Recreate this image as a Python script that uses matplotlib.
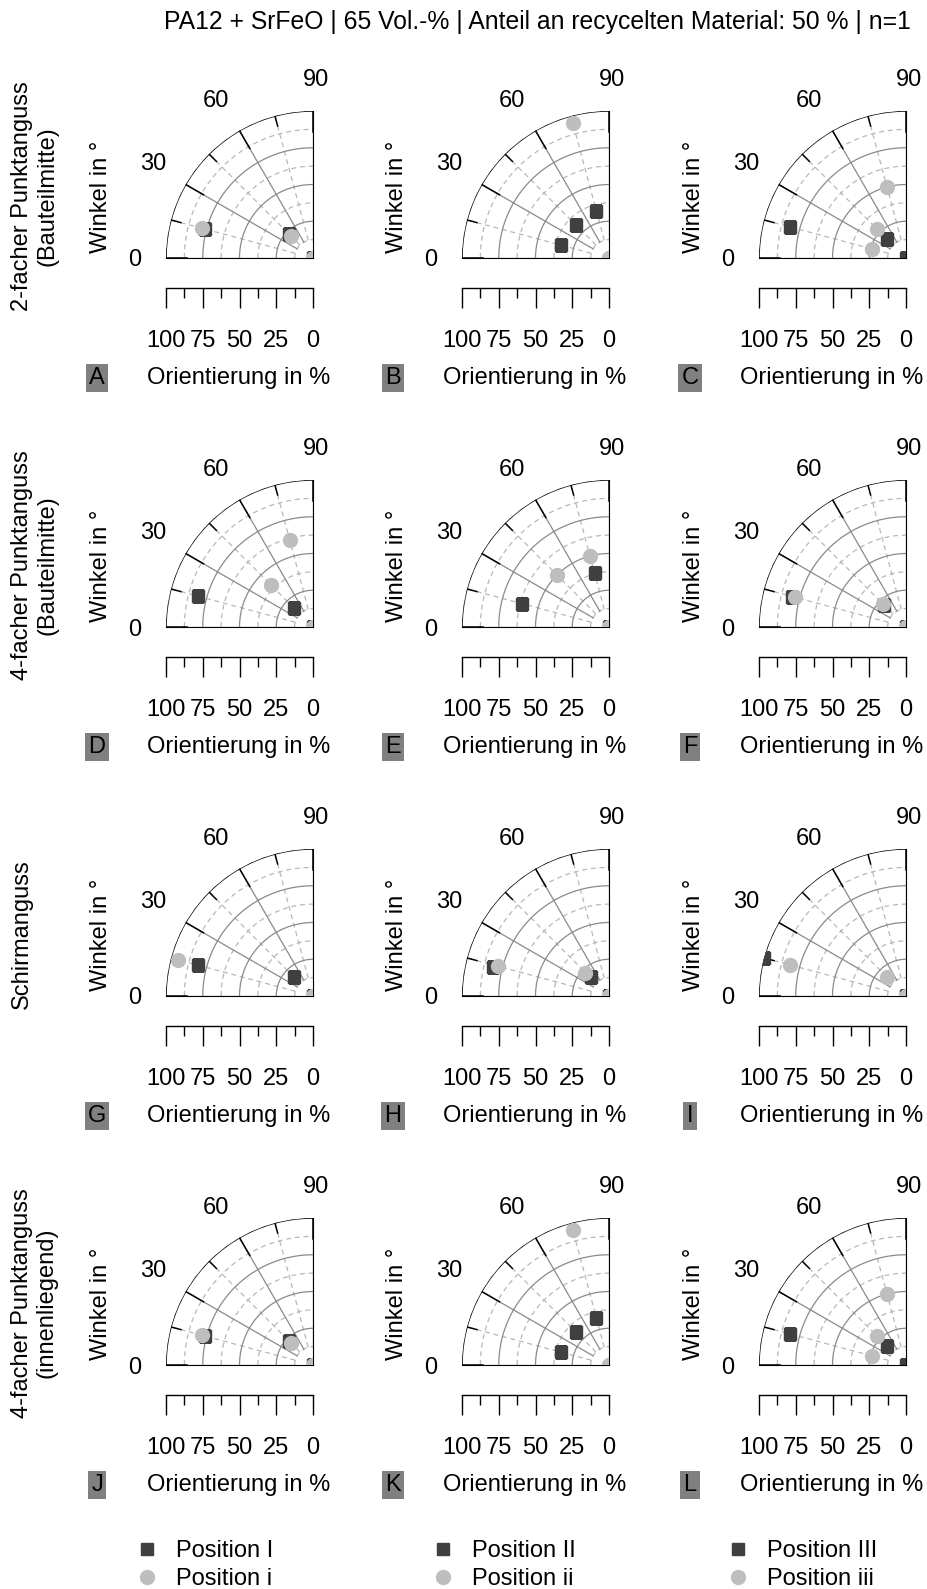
import numpy as np
import matplotlib.pyplot as plt
from matplotlib.lines import Line2D

plt.rcParams['font.family'] = ['Liberation Sans', 'DejaVu Sans']
plt.rcParams['font.size'] = 17

W, H = 927, 1589  # Bildgröße in Pixel

title = "PA12 + SrFeO | 65 Vol.-% | Anteil an recycelten Material: 50 % | n=1"
row_labels = [["2-facher Punktanguss", "(Bauteilmitte)"],
              ["4-facher Punktanguss", "(Bauteilmitte)"],
              ["Schirmanguss"],
              ["4-facher Punktanguss", "(innenliegend)"]]
panel_letters = ["A", "B", "C", "D", "E", "F", "G", "H", "I", "J", "K", "L"]
angle_ticks = [0, 30, 60, 90]
orient_ticks = [100, 75, 50, 25, 0]
pos_upper = ["Position I", "Position II", "Position III"]
pos_lower = ["Position i", "Position ii", "Position iii"]

# Orientierung in % und Winkel in ° je Panel (A..L), Reihenfolge I, II, III
orient_upper = [
    [76, 23, 0], [34, 32, 33], [82, 18, 0],
    [81, 18, 0], [61, 38, 0], [80, 21, 0],
    [81, 18, 0], [81, 18, 0], [100, 0, 0],
    [76, 23, 0], [34, 32, 33], [82, 18, 0],
]
angle_upper = [
    [15, 45, 0], [15, 45, 75], [15, 45, 0],
    [15, 45, 0], [15, 75, 0], [15, 45, 0],
    [15, 45, 0], [14, 47, 0], [15, 0, 0],
    [15, 45, 0], [15, 45, 75], [15, 45, 0],
]
# Reihenfolge i, ii, iii
orient_lower = [
    [78, 21, 0], [95, 0, 0], [24, 28, 50],
    [40, 61, 0], [50, 50, 0], [78, 22, 0],
    [95, 0, 0], [78, 23, 0], [82, 18, 0],
    [78, 21, 0], [95, 0, 0], [24, 28, 50],
]
angle_lower = [
    [15, 45, 0], [75, 0, 0], [15, 45, 75],
    [45, 75, 0], [45, 75, 0], [15, 45, 0],
    [15, 0, 0], [15, 44, 0], [15, 45, 0],
    [15, 45, 0], [75, 0, 0], [15, 45, 75],
]

DARK = '#404040'
LIGHT = '#bebebe'
GRID = '#8a8a8a'
GRID_DASH = '#b8b8b8'

col_x = [313, 609, 906]        # Ursprung der Viertelkreise (px)
row_y = [258, 627, 996, 1365]
R = 147                        # Radius in px


def fx(x):
    return x / W


def fy(y):
    return 1 - y / H


def polar_panel(fig, ox, oy, ou, au, ol, al):
    ax = fig.add_axes([fx(ox - R), fy(oy), R / W, R / H], projection='polar')
    ax.set_thetamin(0)
    ax.set_thetamax(90)
    ax.set_theta_zero_location('W')
    ax.set_theta_direction(-1)
    ax.set_rlim(0, 100)
    ax.grid(False)
    ax.set_xticks([])
    ax.set_yticks([])
    for sp in ax.spines.values():
        sp.set_visible(False)

    th = np.linspace(0, np.pi / 2, 200)
    for r in [12.5, 37.5, 62.5, 87.5]:
        ax.plot(th, np.full_like(th, r), color=GRID_DASH, lw=0.9, ls=(0, (4, 3)), zorder=1)
    for a in [15, 45, 75]:
        ax.plot([np.deg2rad(a)] * 2, [12.5, 100], color=GRID_DASH, lw=0.9, ls=(0, (4, 3)), zorder=1)
    for r in [25, 50, 75]:
        ax.plot(th, np.full_like(th, r), color=GRID, lw=0.9, zorder=2)
    for a in angle_ticks:
        ax.plot([np.deg2rad(a)] * 2, [12.5, 100], color=GRID, lw=0.9, zorder=2)

    # Rand mit Winkelstrichen
    ax.plot(th, np.full_like(th, 100), color='black', lw=1.1, zorder=3)
    for a in angle_ticks:
        ax.plot([np.deg2rad(a)] * 2, [86, 100], color='black', lw=1.1, zorder=3)
    for a in [15, 45, 75]:
        ax.plot([np.deg2rad(a)] * 2, [93, 100], color='black', lw=1.1, zorder=3)

    ax.plot(np.deg2rad(au), ou, ls='none', marker='s', ms=9, color=DARK, zorder=4)
    ax.plot(np.deg2rad(al), ol, ls='none', marker='o', ms=10, color=LIGHT, zorder=5)

    label_pos = {0: (0, 121), 30: (31, 127), 60: (58.5, 127), 90: (91, 123)}
    for a in angle_ticks:
        t, r = label_pos[a]
        ax.text(np.deg2rad(t), r, str(a), ha='center', va='center_baseline', clip_on=False)
    return ax


def orient_axis(fig, ox, oy):
    ax = fig.add_axes([fx(ox - R), fy(oy + 30), R / W, 0.001])
    ax.set_xlim(100, 0)
    ax.set_ylim(0, 1)
    ax.set_yticks([])
    for side in ['top', 'left', 'right']:
        ax.spines[side].set_visible(False)
    ax.spines['bottom'].set_linewidth(1.0)
    ax.set_xticks(orient_ticks)
    ax.set_xticks([87.5, 62.5, 37.5, 12.5], minor=True)
    ax.tick_params(axis='x', which='major', length=14.4, width=1.0, pad=16)
    ax.tick_params(axis='x', which='minor', length=7.2, width=1.0)
    ax.patch.set_visible(False)
    return ax


fig = plt.figure(figsize=(W / 100, H / 100), dpi=100)
fig.text(fx(537), fy(22), title, ha='center', va='center', fontsize=17.8)

for i in range(4):
    for j in range(3):
        k = i * 3 + j
        ox, oy = col_x[j], row_y[i]
        polar_panel(fig, ox, oy, orient_upper[k], angle_upper[k],
                    orient_lower[k], angle_lower[k])
        orient_axis(fig, ox, oy)
        fig.text(fx(ox - 212), fy(oy - 61), "Winkel in °", rotation=90,
                 ha='center', va='center')
        fig.text(fx(ox - 74), fy(oy + 120), "Orientierung in %", ha='center', va='center')
        fig.text(fx(ox - 216), fy(oy + 120), panel_letters[k], ha='center', va='center',
                 bbox=dict(boxstyle='square,pad=0.14', fc='#808080', ec='none'))

    lines = row_labels[i]
    for n, txt in enumerate(lines):
        fig.text(fx(22 + 25 * n), fy(row_y[i] - 62), txt, rotation=90,
                 ha='center', va='center')

# Legende: drei Spalten
leg_x = [147, 443, 738]
for j in range(3):
    handles = [Line2D([], [], ls='none', marker='s', ms=9, color=DARK, label=pos_upper[j]),
               Line2D([], [], ls='none', marker='o', ms=10, color=LIGHT, label=pos_lower[j])]
    fig.legend(handles=handles, loc='upper left', frameon=False,
               bbox_to_anchor=(fx(leg_x[j] - 12), fy(1540)),
               handlelength=1.0, handletextpad=0.75, labelspacing=0.27,
               borderpad=0, borderaxespad=0)

fig.savefig('out.png', dpi=100)
